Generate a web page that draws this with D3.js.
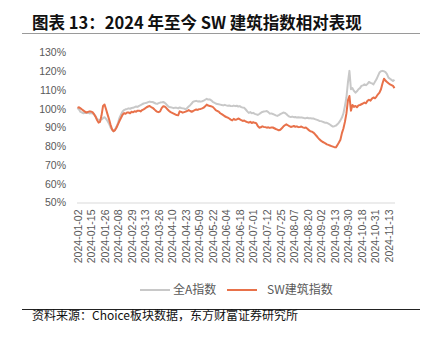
<!DOCTYPE html>
<html><head><meta charset="utf-8">
<script src="https://cdn.jsdelivr.net/npm/d3@7/dist/d3.min.js"></script>
<style>
body{margin:0;background:#fff;}
svg{display:block;font-family:"Noto Sans CJK SC","Liberation Sans",sans-serif;}
</style></head>
<body><svg id="c" width="440" height="339"></svg>
<script>
const title = "图表 13：2024 年至今 SW 建筑指数相对表现";
const source = "资料来源：Choice板块数据，东方财富证券研究所";
const seriesNames = ["全A指数", "SW建筑指数"];
const tickLabels = ["2024-01-02","2024-01-15","2024-01-26","2024-02-08","2024-02-29","2024-03-13","2024-03-26","2024-04-10","2024-04-23","2024-05-09","2024-05-22","2024-06-04","2024-06-18","2024-07-01","2024-07-12","2024-07-25","2024-08-07","2024-08-20","2024-09-02","2024-09-13","2024-09-30","2024-10-18","2024-10-31","2024-11-13"];
const yTicks = [50,60,70,80,90,100,110,120,130];
// 全A指数 relative performance (%), one value per trading day
const allA = [
100.4,99.6,98.3,98.0,97.6,97.8,97.7,97.9,97.5,97.7,
97.4,97.2,96.0,94.5,94.2,94.0,94.3,95.0,95.5,94.6,
93.5,92.0,90.0,88.8,88.0,89.0,90.5,92.5,95.3,97.0,
98.5,99.3,99.7,99.9,100.2,100.0,100.4,100.5,100.9,101.2,
101.0,101.5,101.9,102.4,102.8,103.0,103.2,103.5,103.8,103.6,
103.6,103.2,102.8,102.6,103.0,103.3,103.4,103.6,103.2,102.5,
101.6,100.9,100.8,100.6,100.3,100.6,100.5,100.2,100.7,100.4,
100.2,100.1,99.7,100.4,101.2,101.9,102.8,103.8,104.0,104.2,
103.9,104.0,103.8,104.0,104.3,104.8,105.3,104.9,105.0,104.5,
103.7,103.3,102.8,102.5,102.4,102.2,102.0,101.8,102.1,101.8,
101.6,101.7,101.5,101.4,101.7,101.4,101.6,101.2,101.4,100.9,
100.6,100.5,99.6,98.6,97.8,98.2,97.6,97.8,97.3,97.0,
96.7,97.2,97.8,98.3,98.5,98.6,98.8,98.2,97.4,97.5,
97.2,96.9,96.5,96.2,96.6,97.1,97.5,98.0,97.8,97.2,
96.4,95.8,95.6,95.8,95.5,95.6,95.3,95.5,95.3,95.4,
95.2,95.0,95.0,95.2,94.9,95.0,94.8,94.8,94.5,94.2,
93.9,93.5,93.4,93.1,92.8,92.5,92.5,92.1,91.6,91.0,
90.5,90.7,91.0,91.7,92.6,93.8,95.3,97.5,101.5,106.0,
114.0,120.2,110.4,111.0,109.5,108.6,109.3,110.4,111.0,112.2,
112.5,113.0,112.6,113.2,114.3,113.8,113.5,113.0,114.4,115.7,
117.5,119.3,120.0,120.2,120.0,119.5,118.5,116.6,116.0,115.4,
114.8,115.5];
// SW建筑指数 relative performance (%)
const swBuild = [
100.5,100.8,100.2,99.6,99.0,98.4,98.0,98.3,98.6,98.5,
98.2,97.1,95.8,94.0,92.6,93.0,96.5,101.5,102.3,99.7,
97.0,94.4,91.5,89.0,88.0,88.6,90.0,91.8,93.6,95.2,
96.8,97.7,97.3,98.0,98.0,97.6,98.4,98.1,98.7,98.4,
99.0,99.0,98.6,99.3,99.7,100.2,100.8,101.2,101.5,100.9,
100.5,99.8,99.0,98.4,98.2,98.6,100.3,101.3,101.2,100.5,
99.6,98.8,98.2,97.8,97.4,97.0,96.6,96.5,98.6,98.3,
97.9,98.2,98.5,98.8,99.3,98.8,98.4,98.8,99.3,99.6,
99.4,99.8,99.9,100.2,100.6,101.3,102.2,101.7,101.5,101.3,
101.0,100.2,99.3,98.8,98.5,97.6,97.1,96.6,96.0,95.6,
95.3,94.8,94.2,93.8,94.6,94.1,94.3,94.8,94.4,93.9,
93.5,93.7,93.2,92.9,92.6,93.0,92.4,92.8,92.5,92.3,
90.8,89.9,90.1,90.6,90.3,90.2,89.9,90.1,89.8,90.0,
90.0,89.6,89.2,88.9,88.5,88.8,89.6,90.5,91.2,91.7,
91.2,90.7,90.3,90.5,90.8,90.4,90.6,90.2,90.3,90.5,
90.1,89.8,90.0,89.3,88.6,88.0,87.8,87.3,86.5,85.6,
84.6,83.7,83.0,82.4,82.0,81.5,81.0,80.7,80.4,80.1,
79.8,79.5,79.4,80.6,82.0,83.5,87.0,89.5,93.0,97.5,
104.5,106.8,99.0,102.0,101.0,101.5,100.8,101.8,102.0,102.4,
102.8,103.3,102.9,104.2,104.8,104.3,105.4,106.0,105.6,106.5,
107.7,108.6,110.4,113.5,116.0,115.0,114.3,113.6,113.0,112.6,
112.2,111.0];

const svg = d3.select("#c");
const colors = ["#c8c8c8", "#e8714a"];
const plotLeft = 77.5, plotRight = 394.5, plotTop = 52.5, plotBottom = 202.5;

const x = d3.scaleLinear().domain([0, allA.length - 1]).range([plotLeft, plotRight]);
const y = d3.scaleLinear().domain([50, 130]).range([plotBottom, plotTop]);

// title
svg.append("text").attr("x", 32).attr("y", 29).text(title)
  .attr("font-size", 16.5).attr("font-weight", "bold").attr("fill", "#111");
svg.append("line").attr("x1", 22).attr("x2", 420).attr("y1", 33.5).attr("y2", 33.5)
  .attr("stroke", "#9a9a9a").attr("stroke-width", 1);

// y axis
const yAxis = svg.append("g").attr("transform", `translate(70,0)`)
  .call(d3.axisLeft(y).tickValues(yTicks).tickSize(0).tickPadding(4).tickFormat(d => d + "%"));
yAxis.select(".domain").remove();
yAxis.selectAll("text").attr("font-family", "Liberation Sans, Arial, sans-serif")
  .attr("font-size", 10.5).attr("fill", "#595959");

// x axis
const tickIdx = tickLabels.map((_, i) => i * 9);
const xAxis = svg.append("g").attr("transform", `translate(0,${plotBottom})`)
  .call(d3.axisBottom(x).tickValues(tickIdx).tickSize(0).tickFormat((d, i) => tickLabels[i]));
xAxis.select(".domain").attr("stroke", "#d9d9d9").attr("d", `M${plotLeft - 0.5},0.5H${plotRight + 0.5}`);
xAxis.selectAll("text")
  .attr("transform", "rotate(-90)").attr("x", -7).attr("y", 0).attr("dy", "0.35em")
  .style("text-anchor", "end")
  .attr("font-family", "Liberation Sans, Arial, sans-serif")
  .attr("font-size", 10.5).attr("fill", "#595959");

// lines
const line = d3.line().x((d, i) => x(i)).y(d => y(d));
[allA, swBuild].forEach((s, k) => {
  svg.append("path").datum(s).attr("d", line).attr("fill", "none")
    .attr("stroke", colors[k]).attr("stroke-width", 2).attr("stroke-linejoin", "round");
});

// legend
const legendPos = [{lx: 140, tx: 173}, {lx: 227, tx: 267}];
seriesNames.forEach((n, k) => {
  const p = legendPos[k];
  svg.append("line").attr("x1", p.lx).attr("x2", p.lx + 30).attr("y1", 290).attr("y2", 290)
    .attr("stroke", colors[k]).attr("stroke-width", 2);
  svg.append("text").attr("x", p.tx).attr("y", 290).attr("dy", "0.35em").text(n)
    .attr("font-size", 12).attr("fill", "#595959");
});

// source
svg.append("line").attr("x1", 22).attr("x2", 420).attr("y1", 309.5).attr("y2", 309.5)
  .attr("stroke", "#222").attr("stroke-width", 1);
svg.append("text").attr("x", 32).attr("y", 316).attr("dy", "0.35em").text(source)
  .attr("font-size", 12).attr("fill", "#111");
</script></body></html>
